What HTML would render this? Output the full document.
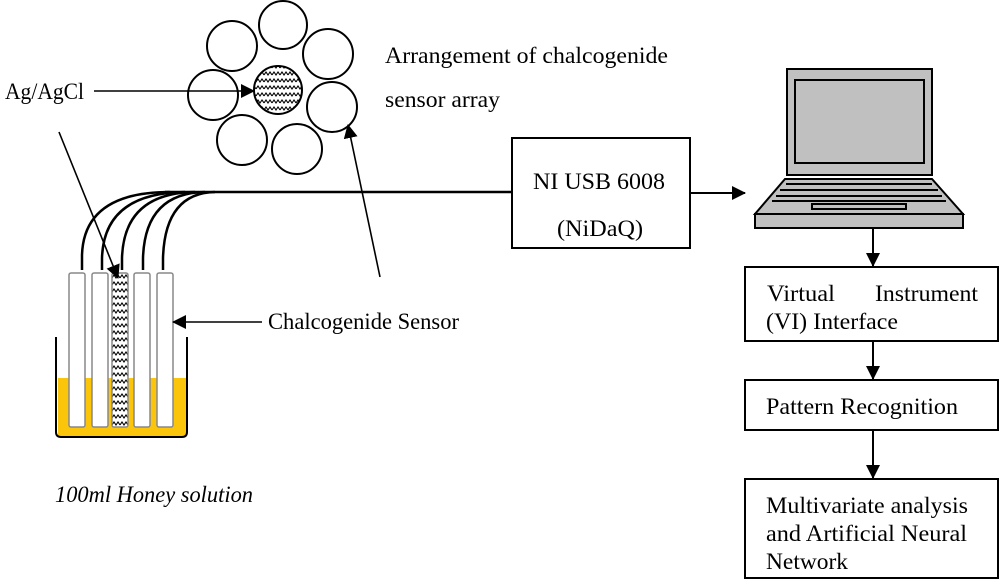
<!DOCTYPE html>
<html><head><meta charset="utf-8"><style>
html,body{margin:0;padding:0;background:#fff}
svg{display:block}
text{font-family:"Liberation Serif",serif;font-size:23px;fill:#000}
</style></head><body>
<svg width="1000" height="580" viewBox="0 0 1000 580" xmlns="http://www.w3.org/2000/svg">
<defs>
<marker id="ah2" markerWidth="14" markerHeight="14" refX="13" refY="7" orient="auto" markerUnits="userSpaceOnUse">
<path d="M0,0 L14,7 L0,14 Z" fill="#000"/></marker>
<pattern id="wv" width="8" height="7" patternUnits="userSpaceOnUse">
<rect width="8" height="7" fill="#fff"/>
<path d="M0,5 L2,2 L4,5 L6,2 L8,5" fill="none" stroke="#000" stroke-width="1.1"/></pattern>
</defs>

<g fill="#fff" stroke="#000" stroke-width="2">
<circle cx="283" cy="25" r="24"/>
<circle cx="232" cy="46" r="25"/>
<circle cx="328" cy="54" r="25"/>
<circle cx="213" cy="95" r="25"/>
<circle cx="332" cy="107" r="25"/>
<circle cx="242" cy="140" r="25"/>
<circle cx="297" cy="149" r="25"/>
<circle cx="278" cy="90" r="24" fill="url(#wv)"/>
</g>
<text x="5" y="99" textLength="79" lengthAdjust="spacingAndGlyphs">Ag/AgCl</text>
<line x1="94" y1="91" x2="254" y2="91" stroke="#000" stroke-width="1.6" marker-end="url(#ah2)"/>
<text x="385" y="63" textLength="283" lengthAdjust="spacingAndGlyphs">Arrangement of chalcogenide</text>
<text x="385" y="107" textLength="115" lengthAdjust="spacingAndGlyphs">sensor array</text>

<rect x="58" y="378" width="128" height="58" fill="#fbc50c"/>
<path d="M56,337 L56,432 Q56,437 61,437 L182,437 Q187,437 187,432 L187,337" fill="none" stroke="#000" stroke-width="2"/>
<g stroke="#888" stroke-width="1.5" fill="#fff">
<rect x="69" y="273" width="16" height="154" rx="2"/>
<rect x="92" y="273" width="16" height="154" rx="2"/>
<rect x="112" y="273" width="16" height="154" rx="2" fill="url(#wv)"/>
<rect x="134" y="273" width="16" height="154" rx="2"/>
<rect x="157" y="273" width="16" height="154" rx="2"/>
</g>
<g fill="none" stroke="#000" stroke-width="2.5">
<path d="M82,270 L82,255 Q84,192 170,192"/>
<path d="M102,270 L102,258 Q104,193 185,192"/>
<path d="M122,270 L122,258 Q124,193 195,192"/>
<path d="M143,270 L143,258 Q145,193 205,192"/>
<path d="M163,270 L163,258 Q165,193 215,192"/>
<path d="M165,192 L512,192"/>
</g>
<line x1="59" y1="132" x2="118" y2="278" stroke="#000" stroke-width="1.6" marker-end="url(#ah2)"/>
<line x1="380" y1="277" x2="348" y2="125" stroke="#000" stroke-width="1.6" marker-end="url(#ah2)"/>
<line x1="262" y1="322" x2="173" y2="322" stroke="#000" stroke-width="1.6" marker-end="url(#ah2)"/>
<text x="268" y="329" textLength="191" lengthAdjust="spacingAndGlyphs">Chalcogenide Sensor</text>
<text x="55" y="502" font-style="italic" textLength="198" lengthAdjust="spacingAndGlyphs">100ml Honey solution</text>

<rect x="512" y="138" width="178" height="110" fill="#fff" stroke="#000" stroke-width="2"/>
<text x="533" y="189" textLength="132" lengthAdjust="spacingAndGlyphs">NI USB 6008</text>
<text x="557" y="236" textLength="86" lengthAdjust="spacingAndGlyphs">(NiDaQ)</text>
<line x1="690" y1="193" x2="745" y2="193" stroke="#000" stroke-width="2" marker-end="url(#ah2)"/>

<g stroke="#000" stroke-width="2" fill="#c0c0c0">
<rect x="787" y="69" width="145" height="106"/>
<rect x="795" y="80" width="129" height="83"/>
<path d="M785,179 L932,179 L963,214 L755,214 Z"/>
<rect x="755" y="214" width="208" height="14"/>
<path d="M786,184 L932,184 M780,190 L938,190 M776,196 L942,196 M772,201 L946,201" fill="none" stroke-width="2"/>
<rect x="812" y="204" width="94" height="5"/>
</g>
<line x1="873" y1="228" x2="873" y2="266" stroke="#000" stroke-width="2" marker-end="url(#ah2)"/>

<g fill="#fff" stroke="#000" stroke-width="2">
<rect x="745" y="267" width="253" height="74"/>
<rect x="745" y="380" width="253" height="50"/>
<rect x="745" y="479" width="253" height="99"/>
</g>
<text x="767" y="301" textLength="68" lengthAdjust="spacingAndGlyphs">Virtual</text>
<text x="875" y="301" textLength="103" lengthAdjust="spacingAndGlyphs">Instrument</text>
<text x="766" y="329" textLength="132" lengthAdjust="spacingAndGlyphs">(VI) Interface</text>
<text x="766" y="414" textLength="192" lengthAdjust="spacingAndGlyphs">Pattern Recognition</text>
<text x="766" y="513" textLength="202" lengthAdjust="spacingAndGlyphs">Multivariate analysis</text>
<text x="766" y="541" textLength="201" lengthAdjust="spacingAndGlyphs">and Artificial Neural</text>
<text x="766" y="569" textLength="82" lengthAdjust="spacingAndGlyphs">Network</text>
<line x1="873" y1="341" x2="873" y2="379" stroke="#000" stroke-width="2" marker-end="url(#ah2)"/>
<line x1="873" y1="430" x2="873" y2="478" stroke="#000" stroke-width="2" marker-end="url(#ah2)"/>
</svg>
</body></html>
